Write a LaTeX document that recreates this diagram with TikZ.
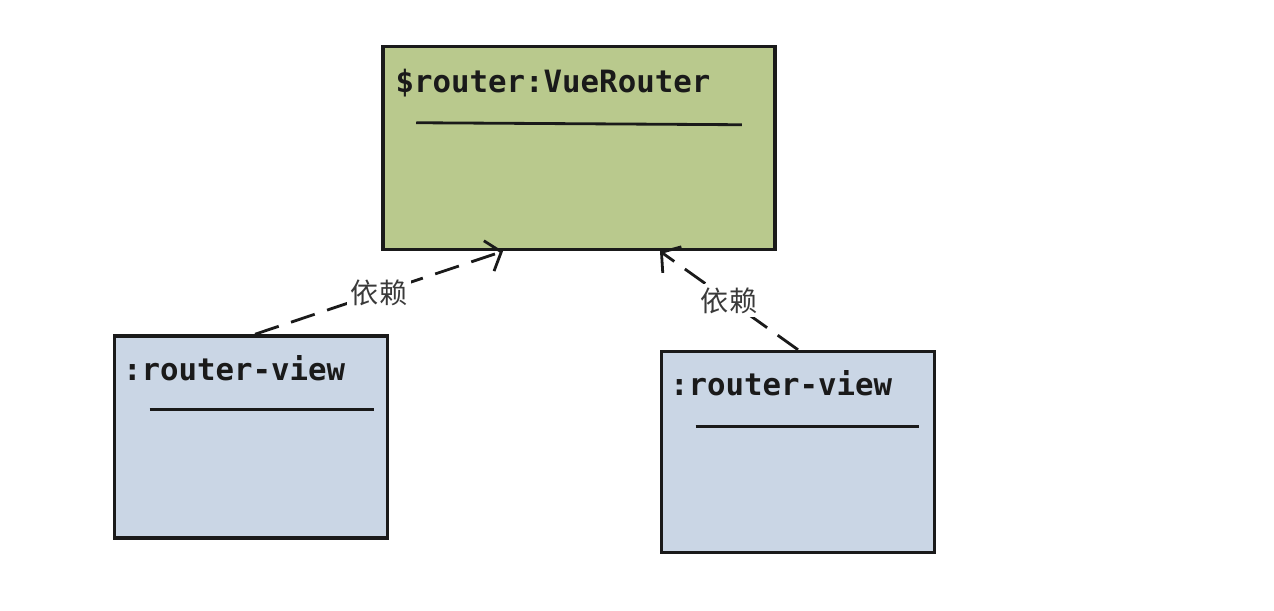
\documentclass[tikz,border=0pt]{standalone}
\usepackage{fontspec}
\setmonofont{DejaVu Sans Mono}
\newfontfamily\cjk{Noto Sans CJK SC}
\usetikzlibrary{arrows.meta, calc}
\definecolor{cgreen}{HTML}{B9C98D}
\definecolor{cblue}{HTML}{CAD6E5}
\definecolor{cink}{HTML}{1A1A1A}
\definecolor{cgrey}{HTML}{3A3A3A}
\tikzset{
  umlbox/.style={draw=cink, fill=#1, line width=2pt, minimum width=5.46cm, minimum height=4.04cm, inner sep=0pt},
  umlbox/.default=cblue,
  boxtitle/.style={font=\ttfamily\bfseries\fontsize{17.5}{20}\selectfont, text=cink, anchor=base west, inner sep=0pt},
  rule/.style={draw=cink, line width=1.6pt},
  dep/.style={-{Straight Barb[length=2.6mm, width=6.4mm]}, draw=cink, line width=1.6pt, dash pattern=on 0.5cm off 0.26cm},
  deplabel/.style={font=\cjk\fontsize{16}{18}\selectfont, text=cgrey, fill=white, inner sep=2pt},
}

\begin{document}
\begin{tikzpicture}
  \useasboundingbox (0,0) rectangle (25.48,12.2);
  % router object
  \node[umlbox=cgreen, minimum width=7.84cm, minimum height=4.06cm] (router) at (11.58,9.24) {};
  \node[boxtitle] (routertitle) at ($(router.north west)+(0.28,-0.96)$) {\$router:VueRouter};
  \draw[rule] ($(router.north west)+(0.7,-1.56)$) -- ($(router.north east)+(-0.7,-1.6)$);
  % left view
  \node[umlbox] (leftview) at (5.02,3.46) {};
  \node[boxtitle] (lefttitle) at ($(leftview.north west)+(0.2,-0.92)$) {:router-view};
  \draw[rule] ($(leftview.north west)+(0.74,-1.5)$) -- ($(leftview.north east)+(-0.3,-1.5)$);
  % right view
  \node[umlbox, minimum height=4.02cm] (rightview) at (15.96,3.16) {};
  \node[boxtitle] (righttitle) at ($(rightview.north west)+(0.2,-0.92)$) {:router-view};
  \draw[rule] ($(rightview.north west)+(0.72,-1.54)$) -- ($(rightview.north east)+(-0.34,-1.54)$);
  % dependencies
  \draw[dep] ([xshift=0.08cm]leftview.north) -- node[deplabel] (depleft) {依赖} ([xshift=-1.52cm]router.south);
  \draw[dep] (rightview.north) -- node[deplabel] (depright) {依赖} ([xshift=1.62cm]router.south);
\end{tikzpicture}
\end{document}
